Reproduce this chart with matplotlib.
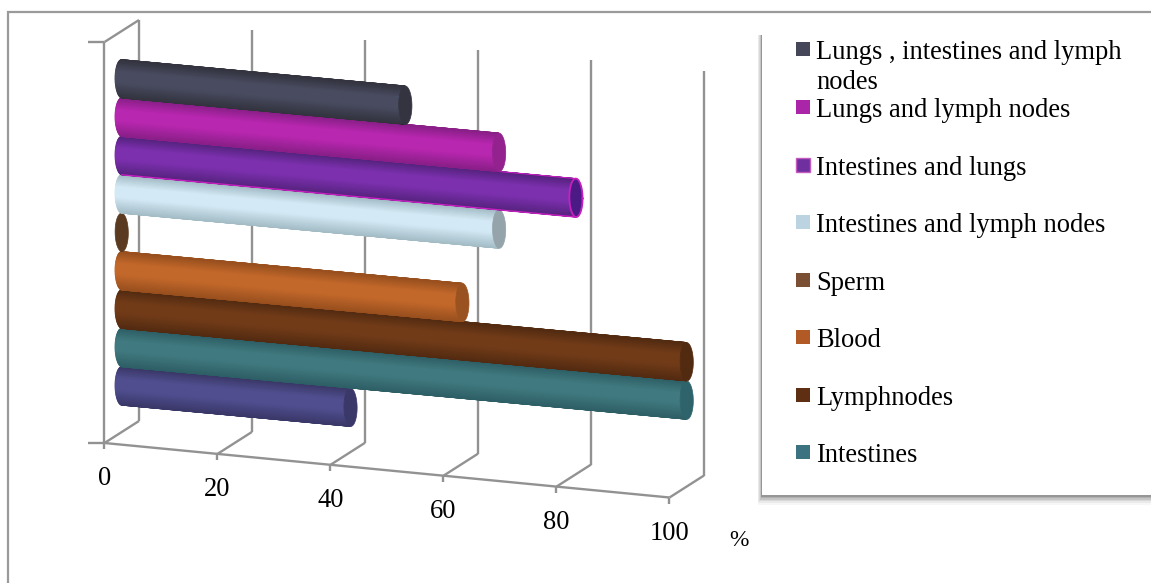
import numpy as np
import matplotlib
matplotlib.use("Agg")
import matplotlib.pyplot as plt
from matplotlib.colors import LinearSegmentedColormap
from matplotlib.patches import Rectangle
from matplotlib.transforms import Affine2D

# ---- data (bottom row first) ----
values = [40.5, 100, 100, 60.3, 0, 66.8, 80.4, 66.8, 50.2]
tick_values = [0, 20, 40, 60, 80, 100]
legend_labels = ["Lungs , intestines and lymph\nnodes", "Lungs and lymph nodes", "Intestines and lungs",
                 "Intestines and lymph nodes", "Sperm", "Blood", "Lymphnodes", "Intestines"]
legend_colors = ["#454759", "#ab25a8", "#6f2f9f", "#bcd3e2", "#7a4f33", "#b15a25", "#5f2f13", "#3b7480"]
edge_colors = ["#3a3868", "#2e5f66", "#532b11", "#99501e", "#5a3a20", "#a3bcc6", "#56237f", "#8a1f88", "#33343f"]
mid_colors = ["#504e8f", "#40797f", "#713b18", "#c3682b", "#5a3a20", "#d3e9f5", "#7c30ae", "#b827b0", "#494b60"]
cap_colors = ["#3a3868", "#2f636b", "#512a10", "#9a5320", "#5a3a20", "#95a4ab", "#4b1a84", "#93228f", "#33343f"]
rim_colors = [None, None, None, None, None, None, "#c81fc0", None, None]

W, H = 1151, 583
fig = plt.figure(figsize=(W / 100, H / 100), dpi=100, facecolor="white")
ax = fig.add_axes([0, 0, 1, 1])
ax.set_xlim(0, W)
ax.set_ylim(H, 0)
ax.axis("off")
plt.rcParams["font.family"] = "Liberation Serif"

GRID = "#929292"
LW = 1.7
FS = 19.1

# outer frame: only the top and left edges are in view
ax.plot([8.5, 8.5, W], [H, 12, 12], color="#9a9a9a", lw=1.6, zorder=0, solid_joinstyle="miter")


# box projection: v in percent, d depth 0..1, h height 0..1
def box(v, d, h):
    return (104.5 + 5.65 * v + 34.5 * d, 443 + 0.545 * v - 22 * d - (401 + 0.04 * v) * h)


def seg(a, b):
    ax.plot([a[0], b[0]], [a[1], b[1]], color=GRID, lw=LW, zorder=1, solid_capstyle="butt")


seg(box(0, 0, 0), box(0, 0, 1))
seg(box(0, 0, 1), box(0, 1, 1))
seg(box(0, 0, 0), box(100, 0, 0))
for yy in (0, 1):
    p = box(0, 0, yy)
    seg((p[0] - 16, p[1]), p)
for v in tick_values:
    seg(box(v, 0, 0), box(v, 1, 0))
    seg(box(v, 1, 0), box(v, 1, 1))
    p = box(v, 0, 0)
    seg(p, (p[0], p[1] + 6))
    ax.text(p[0], p[1] + 35.5, str(v), ha="center", va="center", fontsize=FS, color="black", zorder=5)

ax.text(739, 540, "%", ha="center", va="center", fontsize=FS * 0.88, color="black")

# bar projection: (value, row) -> pixels, through an affine transform
SX, X0, Y0, ROW, SL = 5.65, 121.7, 386.0, 38.4, 0.525
bar_tr = Affine2D.from_values(SX, SL, 0, -ROW, X0, Y0) + ax.transData
RX = 6.6 / SX
theta = np.linspace(-np.pi / 2, np.pi / 2, 41)
s = np.array([0.0, 1.0])

for row, v in enumerate(values):
    cmap = LinearSegmentedColormap.from_list(
        "c", [(0, edge_colors[row]), (0.4, mid_colors[row]), (0.7, mid_colors[row]), (1, edge_colors[row])])
    S, T = np.meshgrid(s, theta)
    X = S * v - RX * np.cos(T)
    Y = row + 0.5 * np.sin(T) * 0.995
    C = (np.sin(T) + 1) / 2
    z = 3 + (row * 0.1)
    if v > 0:
        ax.pcolormesh(X, Y, C, cmap=cmap, shading="gouraud", vmin=0, vmax=1,
                      transform=bar_tr, zorder=z, antialiased=True)
    ph = np.linspace(0, 2 * np.pi, 81)
    ex, ey = v + RX * np.cos(ph), row + 0.5 * np.sin(ph)
    ax.fill(ex, ey, color=cap_colors[row], transform=bar_tr, zorder=z + 0.01, lw=0.5)
    if rim_colors[row]:
        ax.plot(ex, ey, color=rim_colors[row], lw=1.3, transform=bar_tr, zorder=z + 0.02)
        ax.plot(S[0] * v, [row - 0.5, row - 0.5], color=rim_colors[row], lw=1.0, transform=bar_tr, zorder=z + 0.02)
        ax.plot(S[0] * v, [row + 0.5, row + 0.5], color=rim_colors[row], lw=0.8, transform=bar_tr, zorder=z + 0.02)

# legend box with soft shadow on the left and bottom
LX, LY, LR, LB = 762, 35, 1151, 495
for i, a in zip(range(6, 0, -1), [0.03, 0.05, 0.07, 0.09, 0.11, 0.14]):
    ax.add_patch(Rectangle((LX - i * 0.7, LY), LR - LX + i, LB - LY + i * 1.6,
                           fc="black", ec="none", alpha=a, zorder=6))
ax.add_patch(Rectangle((LX, LY), LR - LX, LB - LY, fc="white", ec="none", zorder=7))

text_y = [50, 108, 166, 223, 281, 338, 396, 453]
for lab, col, y in zip(legend_labels, legend_colors, text_y):
    ax.add_patch(Rectangle((796, y - 8), 14, 14, fc=col, ec="#c45cc0" if lab == "Intestines and lungs" else "none",
                           lw=1, zorder=8))
    if "\n" in lab:
        a, b = lab.split("\n")
        ax.text(816, y - 0.5, a, ha="left", va="center_baseline", fontsize=FS, color="black", zorder=8)
        ax.text(816, y + 29.5, b, ha="left", va="center_baseline", fontsize=FS, color="black", zorder=8)
    else:
        ax.text(816, y - 0.5, lab, ha="left", va="center_baseline", fontsize=FS, color="black", zorder=8)

fig.savefig("out.png", dpi=100, facecolor="white")
